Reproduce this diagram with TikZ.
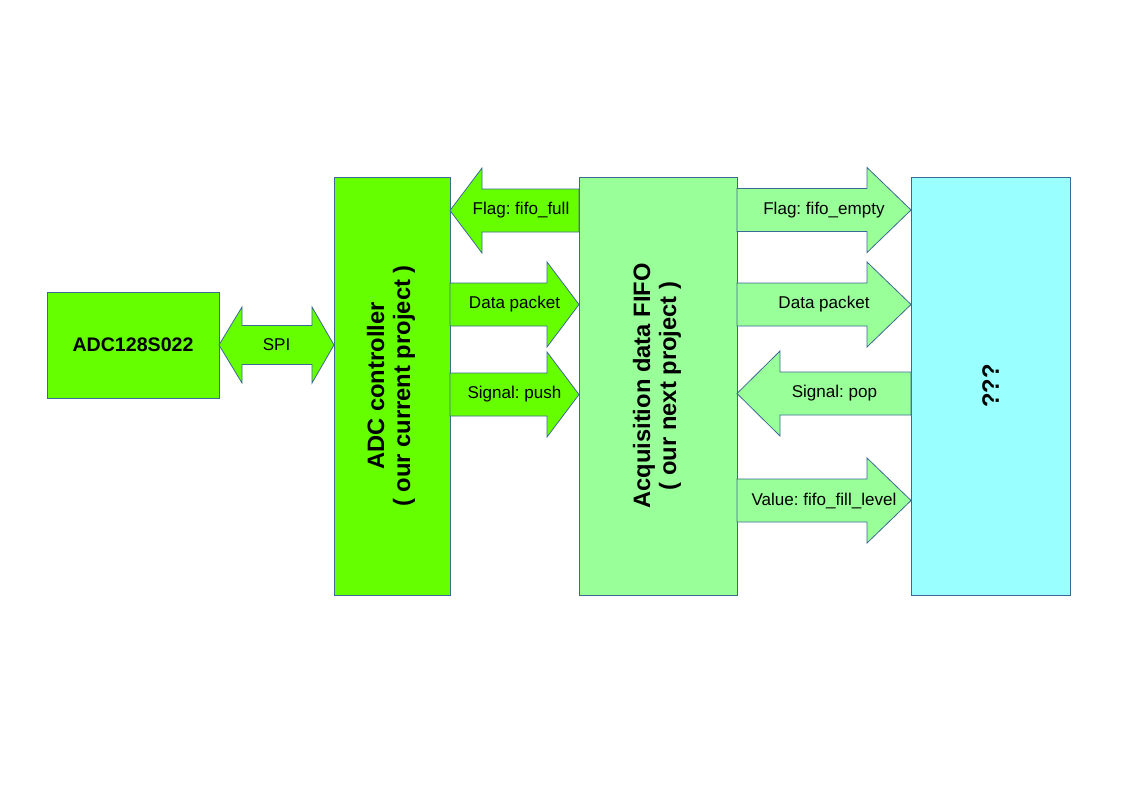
\documentclass[tikz,border=0pt]{standalone}
\usepackage{fontspec}
\setmainfont{Liberation Sans}
\usepackage{graphicx}
\usetikzlibrary{calc}
\frenchspacing

\definecolor{adcgreen}{RGB}{102,255,0}
\definecolor{fifogreen}{RGB}{153,255,153}
\definecolor{sinkcyan}{RGB}{153,255,255}
\definecolor{edgeblue}{RGB}{60,105,150}

% block arrow: [label pos]{style}{tail}{tip}{y}{head length}{label}
\newcommand\flow[7][0.5]{%
  \coordinate (ft) at (#3 |- 0,#5);
  \coordinate (fp) at (#4 |- 0,#5);
  \coordinate (fb) at ($(fp)!#6!(ft)$);
  \draw[#2] ($(ft)+(0,-21.5)$) -- ($(fb)+(0,-21.5)$) -- ($(fb)+(0,-42.5)$) -- (fp)
    -- ($(fb)+(0,42.5)$) -- ($(fb)+(0,21.5)$) -- ($(ft)+(0,21.5)$) -- cycle;
  \node[flowtext] at ($(ft)!#1!(fp)$) {#7};
}

\begin{document}
\begin{tikzpicture}[x=0.75pt,y=0.75pt]
\tikzstyle{every node}+=[inner sep=0pt, outer sep=0pt]
\tikzstyle{box}=[draw=edgeblue, line width=0.6pt, minimum height=313.5pt]
\tikzstyle{boxtext}=[font=\bfseries\fontsize{17.8}{19.5}\selectfont]
\tikzstyle{flowtext}=[font=\fontsize{12.8}{14}\selectfont]
\tikzstyle{adcflow}=[draw=edgeblue, line width=0.6pt, fill=adcgreen]
\tikzstyle{fifoflow}=[draw=edgeblue, line width=0.6pt, fill=fifogreen]
\useasboundingbox (0,0) rectangle (1123,-794);
\node[box, fill=adcgreen, minimum width=129pt, minimum height=79.5pt,
  font=\bfseries\fontsize{14.7}{16}\selectfont] (adc) at (133,-345) {ADC128S022};
\node[box, boxtext, fill=adcgreen, minimum width=87pt] (ctrl) at (392,-386)
  {\rotatebox{90}{\begin{tabular}{@{}c@{}}ADC controller\\( our current project )\end{tabular}}};
\node[box, boxtext, fill=fifogreen, minimum width=118.5pt] (fifo) at (658,-386)
  {\rotatebox{90}{\begin{tabular}{@{}c@{}}Acquisition data FIFO\\( our next project )\end{tabular}}};
\node[box, boxtext, fill=sinkcyan, minimum width=119.25pt] (sink) at (990.5,-386)
  {\rotatebox{90}{???}};
% SPI, both ways
\coordinate (spiL) at (adc.east);
\coordinate (spiR) at (ctrl.west |- adc.east);
\draw[adcflow] (spiL) -- ($(spiL)+(23,38)$) -- ($(spiL)+(23,19.5)$) -- ($(spiR)+(-22,19.5)$)
  -- ($(spiR)+(-22,38)$) -- (spiR) -- ($(spiR)+(-22,-38)$) -- ($(spiR)+(-22,-19.5)$)
  -- ($(spiL)+(23,-19.5)$) -- ($(spiL)+(23,-38)$) -- cycle;
\node[flowtext] (spi) at ($(spiL)!0.5!(spiR)$) {SPI};
% controller <-> fifo
\flow[0.45]{adcflow}{fifo.west}{ctrl.east}{-210.5}{24pt}{Flag: fifo\_full}
\flow{adcflow}{ctrl.east}{fifo.west}{-304.5}{24pt}{Data packet}
\flow{adcflow}{ctrl.east}{fifo.west}{-394.5}{24pt}{Signal: push}
% fifo <-> ???
\flow{fifoflow}{fifo.east}{sink.west}{-210}{33pt}{Flag: fifo\_empty}
\flow{fifoflow}{fifo.east}{sink.west}{-304.5}{33pt}{Data packet}
\flow[0.44]{fifoflow}{sink.west}{fifo.east}{-393.5}{32.25pt}{Signal: pop}
\flow{fifoflow}{fifo.east}{sink.west}{-500.5}{33pt}{Value: fifo\_fill\_level}
\end{tikzpicture}
\end{document}
